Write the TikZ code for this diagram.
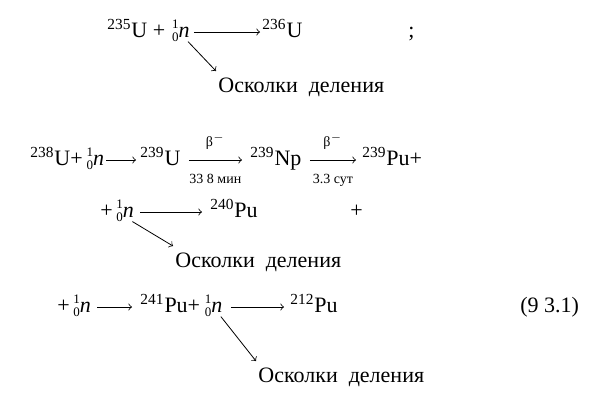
\documentclass[tikz,border=0pt]{standalone}
\usepackage{fontspec}
\setmainfont{Liberation Serif}
\usetikzlibrary{positioning}

% isotope and neutron
\newcommand{\iso}[2]{\textsuperscript{#1}#2}
\newcommand{\neut}{\rlap{\raisebox{0.85ex}{\fontsize{6.5}{7}\selectfont 1}}\raisebox{-0.4ex}{\fontsize{6.5}{7}\selectfont 0}\textit{n}}
\newcommand{\osk}{Осколки\enspace деления}

\begin{document}
\begin{tikzpicture}[x=0.5pt,y=-0.5pt,
    txt/.style={inner sep=0pt,anchor=base west,font=\fontsize{11}{12}\selectfont},
    arr/.style={->,line width=0.4pt},
    lbl/.style={inner sep=1pt,font=\scriptsize}]
    \useasboundingbox (0,0) rectangle (596,402);

    % первая строка
    \node[txt] (u235) at (107,37) {\iso{235}{U} +};
    \node[txt,right=3pt of u235.base east,anchor=base west] (n1) {\neut};
    \node[txt] (u236) at (262,37) {\iso{236}{U}};
    \node[txt] (semi) at (408,37) {;};
    \node[txt] (osk1) at (218,92) {\osk};
    \draw[arr] ([yshift=2.5pt,xshift=2pt]n1.base east) -- ([yshift=2.5pt,xshift=-1pt]u236.base west);
    \draw[arr] ([xshift=-1pt]n1.south east) -- ([xshift=-1pt,yshift=3pt]osk1.north west);

    % вторая строка
    \node[txt] (u238) at (30,165) {\iso{238}{U}+};
    \node[txt,right=1.5pt of u238.base east,anchor=base west] (n2) {\neut};
    \node[txt] (u239) at (140,165) {\iso{239}{U}};
    \node[txt] (np239) at (250,165) {\iso{239}{Np}};
    \node[txt] (pu239) at (362,165) {\iso{239}{Pu}+};
    \draw[arr] ([yshift=2.5pt,xshift=1pt]n2.base east) -- ([yshift=2.5pt,xshift=-2pt]u239.base west);
    \draw[arr] ([yshift=2.5pt,xshift=4pt]u239.base east) -- node[lbl,above=4pt] (b1) {β$^-$}
        node[lbl,below=6pt] (t1) {33 8 мин} ([yshift=2.5pt,xshift=-4pt]np239.base west);
    \draw[arr] ([yshift=2.5pt,xshift=4pt]np239.base east) -- node[lbl,above=4pt] (b2) {β$^-$}
        node[lbl,below=6pt] (t2) {3.3 сут} ([yshift=2.5pt,xshift=-3pt]pu239.base west);

    % третья строка
    \node[txt] (n3) at (100,217) {+\,\neut};
    \node[txt] (pu240) at (210,217) {\iso{240}{Pu}};
    \node[txt] (plus3) at (350,217) {+};
    \node[txt] (osk2) at (175,267) {\osk};
    \draw[arr] ([yshift=2.5pt,xshift=3pt]n3.base east) -- ([yshift=2.5pt,xshift=-4pt]pu240.base west);
    \draw[arr] ([xshift=-1pt]n3.south east) -- ([xshift=-1pt,yshift=3pt]osk2.north west);

    % четвертая строка
    \node[txt] (n4) at (57,312) {+\,\neut};
    \node[txt] (pu241) at (140,312) {\iso{241}{Pu}+};
    \node[txt,right=2pt of pu241.base east,anchor=base west] (n5) {\neut};
    \node[txt] (pu212) at (290,312) {\iso{212}{Pu}};
    \node[txt] (eqno) at (520,312) {(9 3.1)};
    \node[txt] (osk3) at (258,382) {\osk};
    \draw[arr] ([yshift=2.5pt,xshift=3pt]n4.base east) -- ([yshift=2.5pt,xshift=-4pt]pu241.base west);
    \draw[arr] ([yshift=2.5pt,xshift=4pt]n5.base east) -- ([yshift=2.5pt,xshift=-3pt]pu212.base west);
    \draw[arr] ([xshift=-1pt]n5.south east) -- ([xshift=-1pt,yshift=3pt]osk3.north west);
\end{tikzpicture}
\end{document}
